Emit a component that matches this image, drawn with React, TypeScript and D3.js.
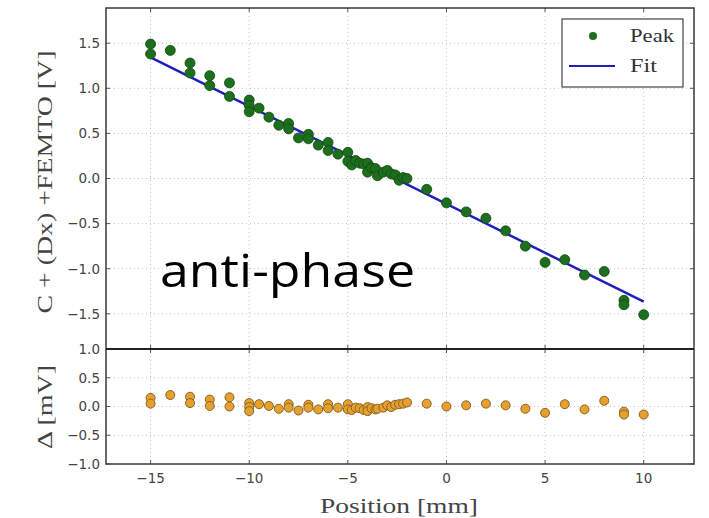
import { useEffect, useRef } from "react";
import * as d3 from "d3";

// positions [mm], peak values [V], residuals [mV]
const posX = [
  -15, -15, -14, -13, -13, -12, -12, -11, -11, -10, -10, -10, -9.5, -9, -8.5, -8, -8,
  -7.5, -7, -7, -6.5, -6, -6, -5.5, -5, -5, -4.8, -4.6, -4.4, -4.2, -4, -4, -3.8, -3.6,
  -3.5, -3.2, -3, -2.8, -2.6, -2.4, -2.2, -2, -1, 0, 1, 2, 3, 4, 5, 6, 7, 8, 9, 9, 10,
];
const peakY = [
  1.49, 1.38, 1.42, 1.28, 1.17, 1.14, 1.03, 1.06, 0.91, 0.87, 0.81, 0.74, 0.78, 0.68, 0.59, 0.61, 0.55,
  0.45, 0.49, 0.44, 0.37, 0.4, 0.31, 0.27, 0.29, 0.19, 0.15, 0.2, 0.17, 0.16, 0.17, 0.07, 0.12, 0.11,
  0.03, 0.07, 0.09, 0.05, 0.04, -0.02, 0.01, 0.0, -0.12, -0.27, -0.37, -0.44, -0.58, -0.75, -0.93, -0.9, -1.07, -1.03, -1.35, -1.4, -1.51,
];
const residY = [
  0.15, 0.05, 0.2, 0.17, 0.06, 0.12, 0.01, 0.16, 0.0, 0.06, -0.01, -0.08, 0.04, 0.01, -0.04, 0.04, -0.02,
  -0.07, 0.03, -0.02, -0.05, 0.04, -0.03, -0.02, 0.04, -0.05, -0.06, -0.02, -0.03, -0.06, -0.01, -0.08, -0.03, -0.05,
  -0.04, -0.02, 0.02, -0.01, 0.03, 0.04, 0.05, 0.07, 0.05, 0.0, 0.02, 0.05, 0.02, -0.04, -0.11, 0.04, -0.05, 0.1, -0.09, -0.14, -0.14,
];
const fitX = [-15, 10];
const fitY = [1.344, -1.366];

const xTicks = [-15, -10, -5, 0, 5, 10];
const topTicks = [-1.5, -1.0, -0.5, 0.0, 0.5, 1.0, 1.5];
const botTicks = [-1.0, -0.5, 0.0, 0.5, 1.0];

const W = 709;
const H = 518;

const App = () => {
  const svgRef = useRef<SVGSVGElement>(null);

  useEffect(() => {
    const svg = d3.select(svgRef.current);
    svg.selectAll("*").remove();

    const left = 106, right = 694, top = 8, mid = 349, bottom = 464;

    const x = d3.scaleLinear().domain([-17.26, 12.55]).range([left, right]);
    const yTop = d3.scaleLinear().domain([-1.89, 1.89]).range([mid, top]);
    const yBot = d3.scaleLinear().domain([-1, 1]).range([bottom, mid]);

    const fmt = (v: number) => d3.format(".1f")(v).replace("-", "\u2212");
    const tickFont = "'DejaVu Sans', sans-serif";
    const serif = "'Liberation Serif', 'DejaVu Serif', serif";

    // grids
    const grid = svg.append("g").attr("stroke", "#c4c4c4").attr("stroke-width", 1).attr("stroke-dasharray", "1,3");
    xTicks.forEach((t) => {
      grid.append("line").attr("x1", x(t)).attr("x2", x(t)).attr("y1", top).attr("y2", bottom);
    });
    topTicks.forEach((t) => {
      grid.append("line").attr("x1", left).attr("x2", right).attr("y1", yTop(t)).attr("y2", yTop(t));
    });
    botTicks.slice(1, 4).forEach((t) => {
      grid.append("line").attr("x1", left).attr("x2", right).attr("y1", yBot(t)).attr("y2", yBot(t));
    });

    // fit line
    const line = d3.line<number>().x((_, i) => x(fitX[i])).y((d) => yTop(d));
    svg.append("path").datum(fitY).attr("d", line).attr("fill", "none").attr("stroke", "#1f1fc0").attr("stroke-width", 2.5);

    // peak points
    svg.append("g").selectAll("circle").data(peakY).enter().append("circle")
      .attr("cx", (_, i) => x(posX[i])).attr("cy", (d) => yTop(d)).attr("r", 5)
      .attr("fill", "#1d6e1d").attr("stroke", "#124a12").attr("stroke-width", 0.8);

    // residual points
    svg.append("g").selectAll("circle").data(residY).enter().append("circle")
      .attr("cx", (_, i) => x(posX[i])).attr("cy", (d) => yBot(d)).attr("r", 4.5)
      .attr("fill", "#e6a030").attr("stroke", "#8a6420").attr("stroke-width", 1);

    // tick marks inside, all sides
    const tk = svg.append("g").attr("stroke", "#555").attr("stroke-width", 1);
    xTicks.forEach((t) => {
      [top, mid].forEach((yy) => tk.append("line").attr("x1", x(t)).attr("x2", x(t)).attr("y1", yy).attr("y2", yy + 4));
      [mid, bottom].forEach((yy) => tk.append("line").attr("x1", x(t)).attr("x2", x(t)).attr("y1", yy).attr("y2", yy - 4));
    });
    topTicks.forEach((t) => {
      tk.append("line").attr("x1", left).attr("x2", left + 4).attr("y1", yTop(t)).attr("y2", yTop(t));
      tk.append("line").attr("x1", right).attr("x2", right - 4).attr("y1", yTop(t)).attr("y2", yTop(t));
    });
    botTicks.forEach((t) => {
      tk.append("line").attr("x1", left).attr("x2", left + 4).attr("y1", yBot(t)).attr("y2", yBot(t));
      tk.append("line").attr("x1", right).attr("x2", right - 4).attr("y1", yBot(t)).attr("y2", yBot(t));
    });

    // frames
    svg.append("rect").attr("x", left).attr("y", top).attr("width", right - left).attr("height", bottom - top)
      .attr("fill", "none").attr("stroke", "#3a3a3a").attr("stroke-width", 1.5);
    svg.append("line").attr("x1", left).attr("x2", right).attr("y1", mid).attr("y2", mid)
      .attr("stroke", "#222").attr("stroke-width", 1.8);

    // tick labels
    const lab = svg.append("g").attr("font-family", tickFont).attr("font-size", 13.5).attr("fill", "#444");
    topTicks.forEach((t) => {
      lab.append("text").attr("x", 100).attr("y", yTop(t)).attr("dy", "0.36em").attr("text-anchor", "end").text(fmt(t));
    });
    botTicks.forEach((t) => {
      lab.append("text").attr("x", 100).attr("y", yBot(t)).attr("dy", "0.36em").attr("text-anchor", "end").text(fmt(t));
    });
    xTicks.forEach((t) => {
      lab.append("text").attr("x", x(t)).attr("y", 483).attr("text-anchor", "middle")
        .text(String(t).replace("-", "\u2212"));
    });

    // axis labels
    svg.append("text").attr("x", 399).attr("y", 513).attr("text-anchor", "middle")
      .attr("font-family", serif).attr("font-size", 22).attr("fill", "#444")
      .attr("textLength", 158).attr("lengthAdjust", "spacingAndGlyphs").text("Position [mm]");
    svg.append("text").attr("transform", "translate(52,182) rotate(-90)").attr("text-anchor", "middle")
      .attr("font-family", serif).attr("font-size", 22).attr("fill", "#444")
      .attr("textLength", 263).attr("lengthAdjust", "spacingAndGlyphs").text("C + (Dx) +FEMTO [V]");
    svg.append("text").attr("transform", "translate(52,407) rotate(-90)").attr("text-anchor", "middle")
      .attr("font-family", serif).attr("font-size", 22).attr("fill", "#444")
      .attr("textLength", 84).attr("lengthAdjust", "spacingAndGlyphs").text("Δ [mV]");

    // legend
    const lg = svg.append("g");
    lg.append("rect").attr("x", 562).attr("y", 19).attr("width", 121).attr("height", 68)
      .attr("fill", "#fff").attr("stroke", "#444").attr("stroke-width", 1.2);
    lg.append("circle").attr("cx", 593).attr("cy", 36).attr("r", 4).attr("fill", "#1d6e1d");
    lg.append("line").attr("x1", 569).attr("x2", 615).attr("y1", 66).attr("y2", 66)
      .attr("stroke", "#1f1fc0").attr("stroke-width", 2);
    lg.append("text").attr("x", 630).attr("y", 42).attr("font-family", serif).attr("font-size", 18).attr("fill", "#333")
      .attr("textLength", 44).attr("lengthAdjust", "spacingAndGlyphs").text("Peak");
    lg.append("text").attr("x", 630).attr("y", 72).attr("font-family", serif).attr("font-size", 18).attr("fill", "#333")
      .attr("textLength", 27).attr("lengthAdjust", "spacingAndGlyphs").text("Fit");

    // annotation
    svg.append("text").attr("x", 160).attr("y", 287).attr("font-family", "'Open Sans', 'Noto Sans', sans-serif")
      .attr("font-size", 46).attr("fill", "#000")
      .attr("textLength", 255).attr("lengthAdjust", "spacingAndGlyphs").text("anti-phase");
  }, []);

  return <svg ref={svgRef} width={W} height={H} style={{ position: "absolute", left: 0, top: 0, background: "#fff" }} />;
};

export default App;
